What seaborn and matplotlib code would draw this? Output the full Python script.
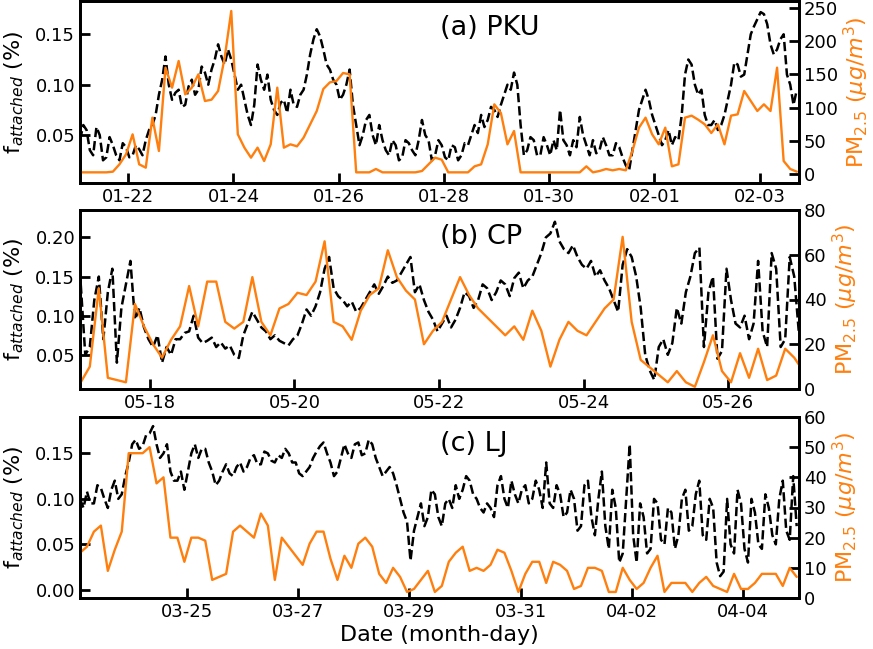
import numpy as np
import pandas as pd
import matplotlib
matplotlib.use("Agg")
import matplotlib.pyplot as plt
import matplotlib.dates as mdates
from matplotlib.ticker import FormatStrFormatter
import seaborn as sns

# ---- data ----
# f_attached at 1.5-hour steps, PM2.5 at 3-hour steps

# (a) PKU, starts 01-21 02:00
pku_frac = [0.045, 0.060, 0.055, 0.035, 0.030, 0.058, 0.050, 0.025, 0.028, 0.048,
            0.040, 0.030, 0.025, 0.042, 0.038, 0.028, 0.030, 0.040, 0.036, 0.030,
            0.045, 0.055, 0.060, 0.070, 0.090, 0.105, 0.128, 0.100, 0.085, 0.092,
            0.095, 0.078, 0.080, 0.098, 0.105, 0.090, 0.095, 0.118, 0.112, 0.100,
            0.115, 0.125, 0.140, 0.128, 0.120, 0.135, 0.125, 0.110, 0.095, 0.100,
            0.085, 0.070, 0.060, 0.080, 0.120, 0.105, 0.095, 0.110, 0.085, 0.075,
            0.070, 0.082, 0.085, 0.072, 0.095, 0.080, 0.078, 0.090, 0.095, 0.110,
            0.130, 0.145, 0.155, 0.148, 0.135, 0.120, 0.115, 0.105, 0.100, 0.085,
            0.090, 0.100, 0.115, 0.080, 0.060, 0.040, 0.050, 0.065, 0.070, 0.050,
            0.040, 0.060, 0.045, 0.035, 0.030, 0.045, 0.040, 0.025, 0.028, 0.045,
            0.042, 0.035, 0.030, 0.045, 0.065, 0.050, 0.045, 0.025, 0.030, 0.045,
            0.040, 0.028, 0.025, 0.040, 0.038, 0.025, 0.030, 0.042, 0.040, 0.050,
            0.060, 0.052, 0.070, 0.058, 0.065, 0.078, 0.075, 0.068, 0.080, 0.090,
            0.100, 0.095, 0.112, 0.100, 0.060, 0.030, 0.035, 0.048, 0.045, 0.030,
            0.030, 0.048, 0.040, 0.030, 0.045, 0.035, 0.075, 0.045, 0.040, 0.030,
            0.045, 0.038, 0.068, 0.050, 0.040, 0.030, 0.045, 0.032, 0.035, 0.048,
            0.040, 0.030, 0.030, 0.042, 0.038, 0.028, 0.020, 0.015, 0.035, 0.055,
            0.075, 0.085, 0.095, 0.085, 0.070, 0.060, 0.050, 0.040, 0.045, 0.055,
            0.040, 0.048, 0.045, 0.070, 0.110, 0.125, 0.120, 0.100, 0.090, 0.095,
            0.070, 0.060, 0.060, 0.065, 0.055, 0.060, 0.070, 0.085, 0.100, 0.122,
            0.120, 0.108, 0.110, 0.130, 0.150, 0.158, 0.165, 0.172, 0.170, 0.160,
            0.140, 0.130, 0.135, 0.145, 0.150, 0.110, 0.100, 0.080, 0.095]
pku_pm = [3, 3, 3, 3, 3, 4, 15, 30, 60, 15,
          10, 85, 35, 160, 130, 170, 120, 130, 150, 110,
          112, 125, 175, 245, 60, 40, 25, 40, 20, 45,
          130, 40, 45, 42, 55, 75, 95, 128, 138, 140,
          152, 150, 3, 3, 3, 8, 3, 3, 3, 3,
          3, 3, 5, 15, 25, 22, 3, 3, 3, 3,
          12, 15, 45, 105, 92, 45, 65, 3, 3, 3,
          3, 3, 3, 3, 3, 3, 3, 12, 3, 5,
          8, 6, 8, 6, 35, 70, 85, 60, 45, 70,
          12, 15, 85, 88, 82, 75, 62, 75, 45, 88,
          90, 125, 110, 95, 105, 95, 160, 20, 8, 4]

# (b) CP, starts 05-17 01:00 (None = missing PM2.5)
cp_frac = [0.140, 0.050, 0.060, 0.120, 0.150, 0.070, 0.130, 0.160, 0.040, 0.110,
           0.140, 0.170, 0.095, 0.110, 0.085, 0.070, 0.060, 0.075, 0.040, 0.060,
           0.050, 0.070, 0.070, 0.078, 0.080, 0.100, 0.072, 0.065, 0.068, 0.072,
           0.060, 0.066, 0.058, 0.062, 0.050, 0.046, 0.075, 0.090, 0.105, 0.095,
           0.085, 0.080, 0.070, 0.075, 0.068, 0.065, 0.062, 0.070, 0.075, 0.090,
           0.108, 0.100, 0.112, 0.130, 0.160, 0.175, 0.135, 0.125, 0.120, 0.112,
           0.118, 0.105, 0.110, 0.120, 0.130, 0.140, 0.128, 0.138, 0.150, 0.142,
           0.145, 0.155, 0.165, 0.175, 0.130, 0.140, 0.120, 0.105, 0.095, 0.080,
           0.090, 0.100, 0.085, 0.095, 0.110, 0.130, 0.125, 0.110, 0.120, 0.140,
           0.135, 0.120, 0.130, 0.145, 0.140, 0.125, 0.148, 0.155, 0.135, 0.145,
           0.150, 0.165, 0.180, 0.200, 0.205, 0.220, 0.195, 0.185, 0.180, 0.190,
           0.175, 0.165, 0.160, 0.170, 0.150, 0.158, 0.145, 0.135, 0.120, 0.105,
           0.165, 0.185, 0.175, 0.150, 0.110, 0.050, 0.030, 0.018, 0.060, 0.070,
           0.050, 0.065, 0.110, 0.090, 0.130, 0.150, 0.180, 0.187, 0.060, 0.130,
           0.150, 0.045, 0.055, 0.160, 0.120, 0.090, 0.085, 0.100, 0.070, 0.090,
           0.170, 0.080, 0.060, 0.180, 0.160, 0.060, 0.070, 0.175, 0.150, 0.080,
           0.110]
cp_pm = [3, 10, 45, 5, None, 3, 38, 28, 20, 14,
         22, 28, 46, 28, 48, 48, 30, 27, 30, 50,
         30, 24, 36, 38, 43, 42, 48, 66, 30, 28,
         22, 35, 42, 45, 62, 50, 44, 40, 20, 26,
         30, 40, 50, 42, 36, 32, 28, 24, 28, 22,
         35, 26, 10, 22, 30, 26, 24, 30, 36, 40,
         68, 30, 13, None, None, 3, 8, 3, 1, 12,
         24, 8, 3, 16, 5, 18, 4, 6, 18, 14,
         8]

# (c) LJ, starts 03-23 02:00
lj_frac = [0.100, 0.090, 0.108, 0.095, 0.095, 0.115, 0.112, 0.100, 0.090, 0.110,
           0.120, 0.100, 0.105, 0.125, 0.140, 0.160, 0.165, 0.155, 0.158, 0.170,
           0.172, 0.180, 0.160, 0.145, 0.150, 0.160, 0.130, 0.120, 0.120, 0.130,
           0.110, 0.130, 0.150, 0.160, 0.145, 0.155, 0.155, 0.140, 0.130, 0.115,
           0.120, 0.130, 0.138, 0.128, 0.125, 0.135, 0.140, 0.130, 0.135, 0.145,
           0.148, 0.138, 0.138, 0.152, 0.150, 0.142, 0.140, 0.148, 0.145, 0.155,
           0.150, 0.140, 0.140, 0.128, 0.125, 0.130, 0.135, 0.145, 0.152, 0.158,
           0.162, 0.150, 0.140, 0.125, 0.130, 0.145, 0.160, 0.150, 0.145, 0.160,
           0.162, 0.148, 0.150, 0.165, 0.160, 0.145, 0.135, 0.125, 0.130, 0.135,
           0.128, 0.115, 0.100, 0.085, 0.075, 0.032, 0.065, 0.080, 0.095, 0.070,
           0.080, 0.110, 0.105, 0.080, 0.070, 0.095, 0.100, 0.090, 0.115, 0.100,
           0.110, 0.125, 0.120, 0.105, 0.100, 0.090, 0.085, 0.095, 0.090, 0.080,
           0.115, 0.125, 0.100, 0.090, 0.120, 0.105, 0.095, 0.110, 0.115, 0.095,
           0.100, 0.120, 0.110, 0.090, 0.140, 0.095, 0.090, 0.115, 0.105, 0.080,
           0.085, 0.110, 0.100, 0.065, 0.070, 0.115, 0.120, 0.080, 0.060, 0.100,
           0.130, 0.070, 0.045, 0.110, 0.090, 0.030, 0.040, 0.100, 0.160, 0.060,
           0.030, 0.095, 0.080, 0.040, 0.045, 0.100, 0.095, 0.055, 0.050, 0.090,
           0.085, 0.045, 0.060, 0.100, 0.110, 0.065, 0.070, 0.105, 0.120, 0.060,
           0.055, 0.100, 0.090, 0.030, 0.015, 0.020, 0.100, 0.050, 0.040, 0.110,
           0.095, 0.045, 0.030, 0.100, 0.085, 0.050, 0.045, 0.105, 0.090, 0.060,
           0.050, 0.100, 0.120, 0.065, 0.055, 0.125, 0.070]
lj_pm = [15, 17, 22, 24, 9, 16, 22, 48, 48, 48,
         50, 38, 40, 20, 20, 12, 20, 20, 19, 6,
         7, 8, 22, 24, 22, 20, 28, 24, 6, 20,
         17, 14, 11, 18, 22, 22, 13, 6, 14, 10,
         18, 20, 17, 8, 5, 10, 7, 2, 3, 6,
         9, 2, 4, 12, 15, 17, 9, 10, 9, 11,
         16, 15, 9, 2, 8, 12, 12, 5, 12, 11,
         9, 3, 4, 10, 10, 9, 2, 2, 10, 6,
         3, 5, 10, 14, 2, 5, 5, 5, 2, 5,
         7, 4, 3, 2, 8, 3, 3, 5, 8, 8,
         8, 4, 10, 7]

ORANGE = "#ff7f0e"

sns.set_theme(style="ticks")
plt.rcParams.update({
    "font.family": ["DejaVu Sans"],
    "text.color": "black",
    "axes.labelcolor": "black",
    "axes.edgecolor": "black",
    "axes.linewidth": 2,
    "xtick.color": "black",
    "ytick.color": "black",
    "mathtext.default": "it",
})

fig = plt.figure(figsize=(8.73, 6.49), dpi=100)
L, W = 80 / 873, 719 / 873
axes = [fig.add_axes([L, 1 - 183 / 649, W, 182 / 649]),
        fig.add_axes([L, 1 - 389 / 649, W, 179 / 649]),
        fig.add_axes([L, 1 - 598 / 649, W, 181 / 649])]

panels = [
    dict(start="2019-01-21 02:00", frac=pku_frac, pm=pku_pm,
         xlim=("2019-01-21 02:00", "2019-02-03 18:00"), tick0="2019-01-22", nt=7,
         flim=(0.0025, 0.183), fticks=[0.05, 0.10, 0.15],
         plim=(-13, 260), pticks=range(0, 251, 50), tag="(a) PKU"),
    dict(start="2019-05-17 01:00", frac=cp_frac, pm=cp_pm,
         xlim=("2019-05-17 00:45", "2019-05-26 23:35"), tick0="2019-05-18", nt=5,
         flim=(0.0064, 0.235), fticks=[0.05, 0.10, 0.15, 0.20],
         plim=(0, 80), pticks=range(0, 81, 20), tag="(b) CP"),
    dict(start="2019-03-23 02:00", frac=lj_frac, pm=lj_pm,
         xlim=("2019-03-23 02:00", "2019-04-05 00:00"), tick0="2019-03-25", nt=6,
         flim=(-0.009, 0.19), fticks=[0.0, 0.05, 0.10, 0.15],
         plim=(0, 60), pticks=range(0, 61, 10), tag="(c) LJ"),
]

for ax, p in zip(axes, panels):
    df_f = pd.DataFrame({"time": pd.date_range(p["start"], periods=len(p["frac"]), freq="90min"),
                         "frac": p["frac"]})
    df_p = pd.DataFrame({"time": pd.date_range(p["start"], periods=len(p["pm"]), freq="3h"),
                         "pm": np.array(p["pm"], dtype=float)}).dropna()

    sns.lineplot(data=df_f, x="time", y="frac", ax=ax, color="black",
                 linestyle="--", linewidth=1.8, estimator=None)
    ax2 = ax.twinx()
    sns.lineplot(data=df_p, x="time", y="pm", ax=ax2,
                 color=ORANGE, linewidth=1.7, estimator=None)

    ax.set_xlim(pd.Timestamp(p["xlim"][0]), pd.Timestamp(p["xlim"][1]))
    ax.set_xticks(pd.date_range(p["tick0"], periods=p["nt"], freq="2D"))
    ax.xaxis.set_major_formatter(mdates.DateFormatter("%m-%d"))
    ax.set_ylim(*p["flim"])
    ax.set_yticks(p["fticks"])
    ax.yaxis.set_major_formatter(FormatStrFormatter("%.2f"))
    ax2.set_ylim(*p["plim"])
    ax2.set_yticks(list(p["pticks"]))

    ax.tick_params(axis="both", direction="in", length=7, width=2,
                   labelsize=13, top=False, right=False)
    ax2.tick_params(axis="y", direction="in", length=7, width=2, labelsize=13)
    for a in (ax, ax2):
        for s in a.spines.values():
            s.set_linewidth(2)
            s.set_color("black")

    ax.set_xlabel("")
    ax.set_ylabel(r"$\mathregular{f}_{attached}$ (%)", fontsize=16, labelpad=7)
    ax2.set_ylabel(r"PM$_{\mathregular{2.5}}$ ($\mu g/m^3$)", fontsize=16,
                   color=ORANGE, labelpad=3)
    ax.text(0.5, 0.85, p["tag"], transform=ax.transAxes, fontsize=19.5,
            ha="left", va="center")

axes[2].set_xlabel("Date (month-day)", fontsize=16, labelpad=3)

fig.savefig("out.png", dpi=100)
